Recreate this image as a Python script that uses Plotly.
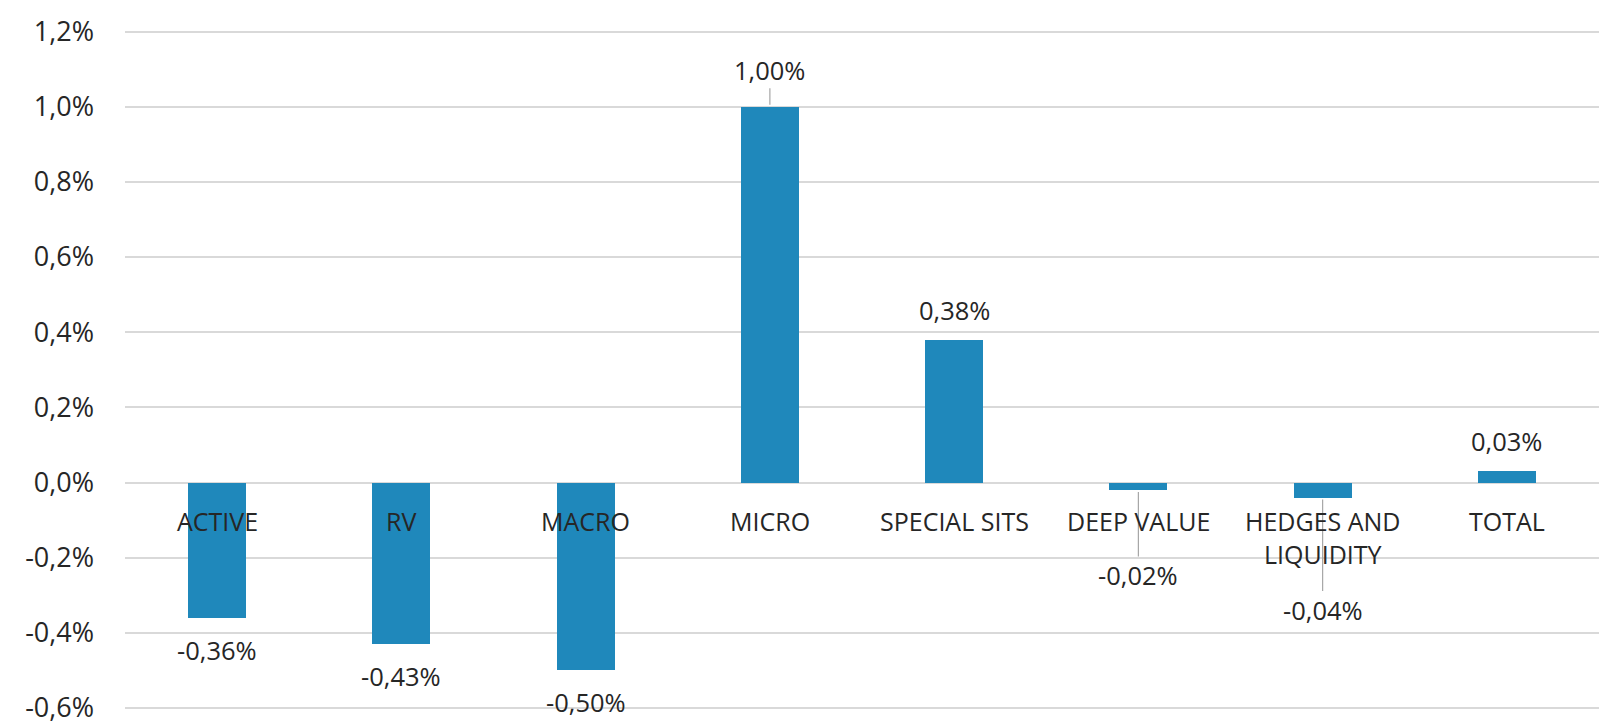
import plotly.graph_objects as go

categories = ["ACTIVE", "RV", "MACRO", "MICRO", "SPECIAL SITS", "DEEP VALUE", "HEDGES AND<br>LIQUIDITY", "TOTAL"]
values = [-0.36, -0.43, -0.50, 1.00, 0.38, -0.02, -0.04, 0.03]
y_ticks = [-0.6, -0.4, -0.2, 0.0, 0.2, 0.4, 0.6, 0.8, 1.0, 1.2]
y_tick_labels = [f"{t:.1f}".replace(".", ",") + "%" for t in y_ticks]

BAR = "#1F88BB"
TXT = "#262626"
FONT = "Open Sans"

# label offsets in pixels (style), leader-line labels pushed further
label_offset = {3: -37, 5: 85, 6: 112}

fig = go.Figure()
fig.add_trace(go.Bar(x=categories, y=values, marker=dict(color=BAR, line=dict(width=0)),
                     width=0.315, hoverinfo="skip"))

annotations = []
for i, (c, v) in enumerate(zip(categories, values)):
    txt = f"{v:.2f}".replace(".", ",") + "%"
    off = label_offset.get(i, -30 if v >= 0 else 32)
    leader = i in label_offset
    annotations.append(dict(x=c, y=v, xref="x", yref="y", text=txt, showarrow=True,
                            ax=0, ay=off, arrowhead=0, arrowwidth=1.2,
                            arrowcolor="#A6A6A6" if leader else "rgba(0,0,0,0)",
                            standoff=2, startstandoff=0,
                            font=dict(family=FONT, size=25.5, color=TXT)))
    annotations.append(dict(x=c, y=0, xref="x", yref="y", text=c, showarrow=False,
                            yanchor="top", yshift=-19, font=dict(family=FONT, size=25, color=TXT)))

fig.update_layout(
    width=1599, height=721,
    margin=dict(l=125, r=0, t=30, b=10, pad=0, autoexpand=False),
    paper_bgcolor="white", plot_bgcolor="white",
    showlegend=False,
    bargap=0,
    annotations=annotations,
    xaxis=dict(showticklabels=False, showgrid=False, zeroline=False, showline=False, ticks="",
               automargin=False),
    yaxis=dict(range=[-0.608, 1.204], tickvals=y_ticks, ticktext=y_tick_labels,
               showgrid=True, gridcolor="#D9D9D9", gridwidth=1.5, zeroline=False, showline=False,
               ticks="", ticklabelstandoff=30, ticklabeloverflow="allow", automargin=False,
               tickfont=dict(family=FONT, size=27, color=TXT)),
)

fig.write_html("out.html")
